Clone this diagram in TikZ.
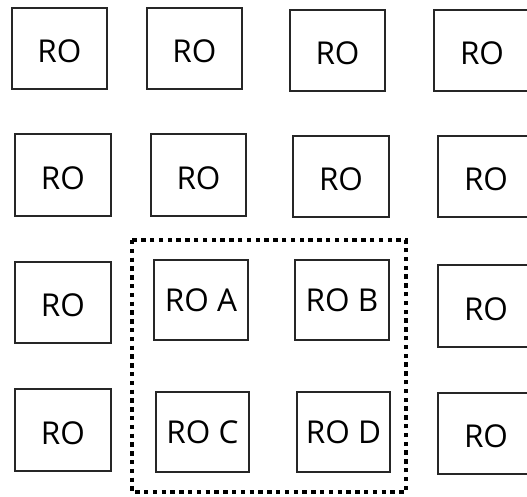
\documentclass[tikz,border=0pt]{standalone}
\usepackage{fontspec}
\setmainfont{Open Sans}
\begin{document}
\begin{tikzpicture}[x=1pt,y=-1pt,
  robox/.style={draw=black!85, line width=1.4pt, inner sep=0pt, font=\fontsize{31.5}{32}\selectfont, text=black},
  roplain/.style={robox, text height=28.5pt, text depth=0pt},
  frame/.style={draw=black, line width=4.6pt, dash pattern=on 4.4pt off 4.4pt}]
\useasboundingbox (0,0) rectangle (527,496);
\clip (0,0) rectangle (527,496);
\fill[white] (0,0) rectangle (527,496);
% row 1
\node[roplain, minimum width=95pt, minimum height=81pt] (r11) at (59.5,48.5) {RO};
\node[roplain, minimum width=95pt, minimum height=81pt] (r12) at (194.5,48.5) {RO};
\node[roplain, minimum width=95pt, minimum height=81pt] (r13) at (337.5,50.5) {RO};
\node[roplain, minimum width=96pt, minimum height=81pt] (r14) at (482,50.5) {RO};
% row 2
\node[roplain, minimum width=96pt, minimum height=82pt] (r21) at (63,175) {RO};
\node[roplain, minimum width=95pt, minimum height=82pt] (r22) at (198.5,175) {RO};
\node[roplain, minimum width=96pt, minimum height=81pt] (r23) at (341,176.5) {RO};
\node[roplain, minimum width=96pt, minimum height=81pt] (r24) at (486,176.5) {RO};
% row 3
\node[roplain, minimum width=96pt, minimum height=81pt] (r31) at (63,302.5) {RO};
\node[robox, minimum width=94pt, minimum height=80pt] (ra) at (201,300) {RO A};
\node[robox, minimum width=94pt, minimum height=80pt] (rb) at (342,300) {RO B};
\node[roplain, minimum width=96pt, minimum height=82pt] (r34) at (486,306) {RO};
% row 4
\node[roplain, minimum width=96pt, minimum height=82pt] (r41) at (63,430) {RO};
\node[robox, minimum width=93pt, minimum height=80pt] (rc) at (202.5,432) {RO C};
\node[robox, minimum width=93pt, minimum height=80pt] (rd) at (343.5,432) {RO D};
\node[roplain, minimum width=96pt, minimum height=81pt] (r44) at (486,433.5) {RO};
% dotted group frame
\coordinate (g1) at (132,240);
\coordinate (g2) at (406,492);
\draw[frame] (g1) rectangle (g2);
\end{tikzpicture}
\end{document}
